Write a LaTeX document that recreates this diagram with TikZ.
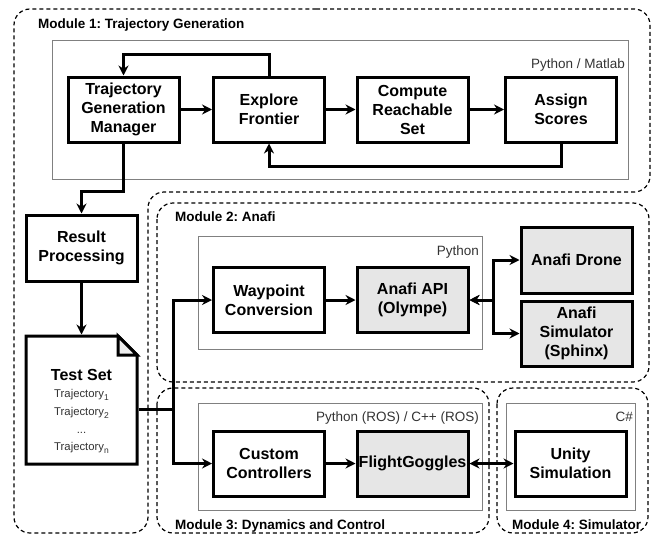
\documentclass[tikz,border=0pt]{standalone}
\usepackage{fontspec}
\setmainfont{Liberation Sans}
\usetikzlibrary{arrows.meta}
\definecolor{boxgray}{HTML}{E6E6E6}
\definecolor{foldgray}{HTML}{EEEEEE}
\definecolor{contgray}{HTML}{808080}
\definecolor{labgray}{HTML}{333333}
\newcommand{\trsub}[1]{\raisebox{-3pt}{\fontsize{8.5}{10}\selectfont #1}}
\frenchspacing
\begin{document}
\begin{tikzpicture}[x=1pt,y=-1pt,
  box/.style={draw, line width=3pt, minimum width=111pt, minimum height=65pt, align=center, font=\fontsize{16}{19}\selectfont\bfseries, inner sep=0pt},
  gbox/.style={box, fill=boxgray},
  cont/.style={draw=contgray, line width=1pt},
  mod/.style={draw, line width=1.2pt, dash pattern=on 4pt off 3pt, rounded corners=16pt},
  modlab/.style={font=\fontsize{13.5}{16}\selectfont\bfseries, anchor=base west, inner sep=0pt},
  contlab/.style={font=\fontsize{13.5}{16}\selectfont, text=labgray, anchor=base east, inner sep=0pt},
  traj/.style={font=\fontsize{11.3}{13}\selectfont, text=labgray, anchor=base, inner sep=0pt},
  conn/.style={line width=3pt},
  arr/.style={conn, -{Stealth[length=10pt,width=10pt]}},
  barr/.style={conn, {Stealth[length=10pt,width=10pt]}-{Stealth[length=10pt,width=10pt]}},
]
\useasboundingbox (0,0) rectangle (652,535);

% modules
\draw[mod] (300,9) -- (650,9) -- (650,192) -- (148,192) -- (148,533) -- (14,533) -- (14,9) -- cycle;
\draw[mod] (157,203) rectangle (649,382);
\draw[mod] (157,388) rectangle (489,533);
\draw[mod] (497,388) rectangle (648,533);
\node[modlab] (m1) at (38,29) {Module 1: Trajectory Generation};
\node[modlab] (m2) at (175,221) {Module 2: Anafi};
\node[modlab] (m3) at (175,529) {Module 3: Dynamics and Control};
\node[modlab] (m4) at (512,529) {Module 4: Simulator};

% containers
\draw[cont] (52,41) rectangle (628,179);
\draw[cont] (198,236) rectangle (482,349);
\draw[cont] (198,403) rectangle (482,510);
\draw[cont] (506,403) rectangle (635,510);
\node[contlab] (c1) at (625,68) {Python / Matlab};
\node[contlab] (c2) at (479,255) {Python};
\node[contlab] (c3) at (479,421) {Python (ROS) / C++ (ROS)};
\node[contlab] (c4) at (633,421) {C\#};

% boxes
\node[box] (tgm) at (123.5,109.5) {Trajectory\\Generation\\Manager};
\node[box] (ef) at (269,109.5) {Explore\\Frontier};
\node[box] (crs) at (412.5,109.5) {Compute\\Reachable\\Set};
\node[box] (as) at (561,109.5) {Assign\\Scores};
\node[box, minimum height=66pt] (rp) at (81.5,248) {Result\\Processing};
\node[box] (wc) at (269,300) {Waypoint\\Conversion};
\node[gbox] (api) at (412.5,300) {Anafi API\\(Olympe)};
\node[gbox, minimum height=66pt] (ad) at (576.5,260) {Anafi Drone};
\node[gbox] (asim) at (576.5,333.5) {Anafi\\Simulator\\(Sphinx)};
\node[box] (cc) at (269,463.5) {Custom\\Controllers};
\node[gbox] (fg) at (412.5,463.5) {FlightGoggles};
\node[box] (us) at (570.5,463.5) {Unity\\Simulation};

% test set document
\node[minimum width=111pt, minimum height=128pt, inner sep=0pt, outer sep=1.5pt] (ts) at (81.5,400) {};
\draw[line width=3pt, fill=white] (26,336) -- (118,336) -- (137,355) -- (137,464) -- (26,464) -- cycle;
\draw[line width=3pt, fill=foldgray, line join=miter] (118,336) -- (118,355) -- (137,355) -- cycle;
\node[font=\fontsize{16}{19}\selectfont\bfseries, anchor=base, inner sep=0pt] (tst) at (81.5,380) {Test Set};
\node[traj] (t1) at (81.5,397) {Trajectory\trsub{1}};
\node[traj] (t2) at (81.5,415) {Trajectory\trsub{2}};
\node[traj] (t3) at (81.5,433) {...};
\node[traj] (t4) at (81.5,450) {Trajectory\trsub{n}};

% connectors module 1
\draw[arr] (tgm) -- (ef);
\draw[arr] (ef) -- (crs);
\draw[arr] (crs) -- (as);
\draw[arr] (ef.north) -- ([yshift=21.5pt]ef.north) -| (tgm.north);
\draw[arr] (as.south) -- ([yshift=-22.5pt]as.south) -| (ef.south);
\coordinate (k1) at (124,191);
\draw[arr] (tgm.south) -- (tgm.south |- k1) -| (rp.north);
\draw[arr] (rp) -- (ts.north);

% test set split
\coordinate (sp) at (173,409);
\draw[arr] ([yshift=-9pt]ts.east) -- (sp) |- (wc.west);
\draw[arr] ([yshift=-9pt]ts.east) -- (sp) |- (cc.west);

% module 2
\draw[arr] (wc) -- (api);
\coordinate (j) at (493,300);
\draw[barr] (api.east) -- (j) |- (ad.west);
\draw[barr] (api.east) -- (j) |- (asim.west);

% module 3/4
\draw[arr] (cc) -- (fg);
\draw[barr] (fg) -- (us);
\end{tikzpicture}
\end{document}
